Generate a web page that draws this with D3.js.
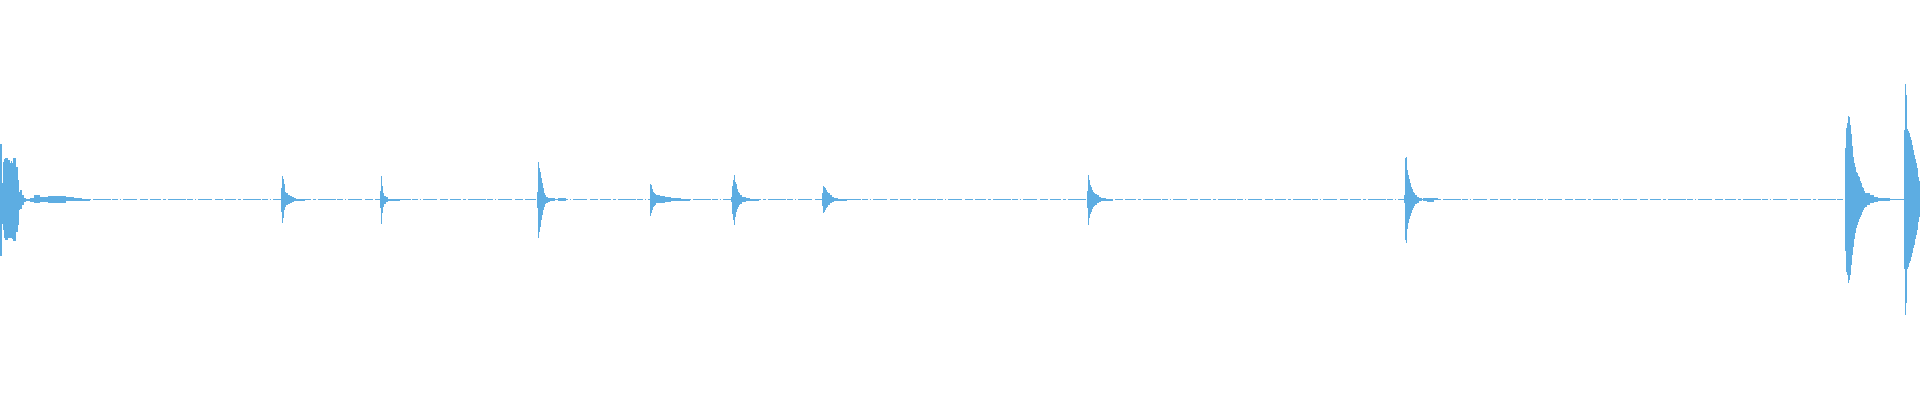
<!DOCTYPE html>
<html>
<head>
<meta charset="utf-8">
<script src="https://cdn.jsdelivr.net/npm/d3@7"></script>
<style>
  html, body { margin: 0; padding: 0; background: #ffffff; }
  svg { display: block; }
</style>
</head>
<body>
<svg id="chart" width="1920" height="400"></svg>
<script>
// Waveform envelope runs: [startColumn, endColumn, max amplitude, min amplitude]
const burst1 = [
  [0,2,0.278,-0.283],[2,3,0.083,-0.123],[3,4,0.189,-0.153],[4,5,0.201,-0.193],
  [5,8,0.208,-0.203],[8,10,0.198,-0.193],[10,11,0.184,-0.193],[11,12,0.194,-0.193],
  [12,13,0.184,-0.198],[13,16,0.208,-0.208],[16,18,0.164,-0.161],[18,19,0.098,-0.128],
  [19,20,0.039,-0.053],[20,22,0.048,-0.049],[22,24,0.023,-0.028],[24,26,0.006,-0.011],
  [26,30,0.004,-0.006],[30,34,0.006,-0.011],[34,40,0.023,-0.019],[40,48,0.013,-0.013],
  [48,66,0.018,-0.018],[66,74,0.013,-0.008],[74,82,0.008,-0.008],[82,90,0.004,-0.006]
];
const burst2 = [
  [281,282,0.056,-0.061],[282,283,0.118,-0.116],[283,284,0.101,-0.094],[284,285,0.078,-0.053],
  [285,286,0.039,-0.039],[286,288,0.031,-0.028],[288,290,0.023,-0.023],[290,292,0.018,-0.016],
  [292,294,0.011,-0.011],[294,296,0.008,-0.006],[296,305,0.004,-0.006]
];
const burst3 = [
  [380,381,0.044,-0.044],[381,382,0.118,-0.123],[382,383,0.068,-0.066],[383,384,0.031,-0.036],
  [384,386,0.018,-0.023],[386,388,0.011,-0.013],[388,400,0.004,-0.006]
];
const burst4 = [
  [537,538,0.039,-0.044],[538,539,0.188,-0.193],[539,540,0.158,-0.161],[540,541,0.136,-0.139],
  [541,542,0.106,-0.103],[542,543,0.081,-0.078],[543,544,0.056,-0.053],[544,545,0.034,-0.036],
  [545,546,0.023,-0.023],[546,548,0.014,-0.016],[548,550,0.009,-0.011],[550,555,0.006,-0.006],
  [558,566,0.009,-0.008]
];
const burst5 = [
  [650,651,0.078,-0.083],[651,652,0.071,-0.066],[652,653,0.051,-0.053],[653,654,0.039,-0.039],
  [654,655,0.034,-0.033],[655,656,0.028,-0.028],[656,660,0.021,-0.019],[660,665,0.018,-0.018],
  [665,671,0.011,-0.013],[671,681,0.006,-0.008],[681,690,0.004,-0.006]
];
const burst6 = [
  [731,732,0.014,-0.011],[732,733,0.068,-0.073],[733,734,0.098,-0.103],[734,735,0.123,-0.128],
  [735,736,0.089,-0.086],[736,737,0.078,-0.061],[737,738,0.051,-0.049],[738,739,0.039,-0.039],
  [739,740,0.031,-0.028],[740,742,0.023,-0.023],[742,744,0.014,-0.014],[744,746,0.011,-0.011],
  [746,750,0.006,-0.008],[750,759,0.004,-0.006]
];
const burst7 = [
  [822,823,0.034,-0.033],[823,824,0.068,-0.069],[824,825,0.061,-0.061],[825,826,0.056,-0.053],
  [826,827,0.048,-0.044],[827,828,0.039,-0.036],[828,830,0.031,-0.028],[830,832,0.023,-0.019],
  [832,834,0.014,-0.013],[834,838,0.008,-0.006],[838,847,0.004,-0.006]
];
const burst8 = [
  [1087,1088,0.044,-0.044],[1088,1089,0.123,-0.128],[1089,1090,0.098,-0.094],[1090,1091,0.073,-0.073],
  [1091,1092,0.061,-0.061],[1092,1093,0.048,-0.049],[1093,1094,0.039,-0.039],[1094,1095,0.034,-0.033],
  [1095,1097,0.028,-0.028],[1097,1099,0.021,-0.019],[1099,1101,0.014,-0.013],[1101,1106,0.009,-0.008],
  [1106,1113,0.004,-0.006]
];
const burst9 = [
  [1404,1405,0.023,-0.019],[1405,1406,0.206,-0.203],[1406,1407,0.214,-0.216],[1407,1408,0.148,-0.149],
  [1408,1409,0.123,-0.119],[1409,1410,0.101,-0.099],[1410,1411,0.081,-0.083],[1411,1412,0.064,-0.066],
  [1412,1413,0.051,-0.053],[1413,1414,0.039,-0.041],[1414,1415,0.031,-0.033],[1415,1417,0.023,-0.023],
  [1417,1419,0.014,-0.016],[1419,1422,0.008,-0.008],[1423,1427,0.009,-0.008],[1427,1434,0.009,-0.011],
  [1434,1438,0.006,-0.004]
];
const burst10 = [
  [1845,1846,0.256,-0.256],[1846,1847,0.356,-0.361],[1847,1848,0.381,-0.378],[1848,1849,0.418,-0.416],
  [1849,1850,0.411,-0.403],[1850,1851,0.373,-0.378],[1851,1852,0.328,-0.328],[1852,1853,0.268,-0.278],
  [1853,1854,0.214,-0.236],[1854,1855,0.181,-0.199],[1855,1856,0.161,-0.169],[1856,1857,0.139,-0.144],
  [1857,1858,0.131,-0.128],[1858,1859,0.118,-0.111],[1859,1860,0.111,-0.099],[1860,1861,0.094,-0.086],
  [1861,1862,0.081,-0.078],[1862,1863,0.064,-0.061],[1863,1864,0.056,-0.053],[1864,1865,0.044,-0.044],
  [1865,1867,0.034,-0.036],[1867,1870,0.031,-0.028],[1870,1874,0.023,-0.019],[1874,1878,0.014,-0.011],
  [1878,1890,0.009,-0.006],[1890,1898,0.004,-0.003]
];
const burst11 = [
  [1904,1905,0.348,-0.349],[1905,1906,0.578,-0.578],[1906,1907,0.523,-0.519],[1907,1908,0.351,-0.349],
  [1908,1909,0.344,-0.336],[1909,1910,0.331,-0.319],[1910,1911,0.314,-0.306],[1911,1912,0.298,-0.289],
  [1912,1913,0.273,-0.269],[1913,1914,0.248,-0.244],[1914,1915,0.223,-0.228],[1915,1916,0.201,-0.199],
  [1916,1917,0.181,-0.178],[1917,1918,0.156,-0.153],[1918,1919,0.114,-0.111],[1919,1920,0.094,-0.086]
];

const columnDomain = [0, 1920];
const amplitudeDomain = [-1, 1];
const waveColor = "#5dade2";

const runs = [].concat(burst1, burst2, burst3, burst4, burst5, burst6, burst7, burst8, burst9, burst10, burst11);

const svg = d3.select("#chart");
const x = d3.scaleLinear().domain(columnDomain).range([0, 1920]);
const y = d3.scaleLinear().domain(amplitudeDomain).range([399.5, -0.5]);

// baseline (near-silent samples)
svg.append("line")
  .attr("x1", x(columnDomain[0]))
  .attr("x2", x(columnDomain[1]))
  .attr("y1", y(0) - 0.5)
  .attr("y2", y(0) - 0.5)
  .attr("stroke", waveColor)
  .attr("stroke-width", 1)
  .attr("stroke-dasharray", "11,2,3,2,18,1,6,2,1,2,14,3,8,2")
  .attr("shape-rendering", "crispEdges");

svg.append("g")
  .selectAll("rect")
  .data(runs)
  .join("rect")
  .attr("x", d => x(d[0]))
  .attr("width", d => x(d[1]) - x(d[0]))
  .attr("y", d => y(d[2]))
  .attr("height", d => Math.max(1, y(d[3]) - y(d[2])))
  .attr("fill", waveColor)
  .attr("shape-rendering", "crispEdges");
</script>
</body>
</html>
